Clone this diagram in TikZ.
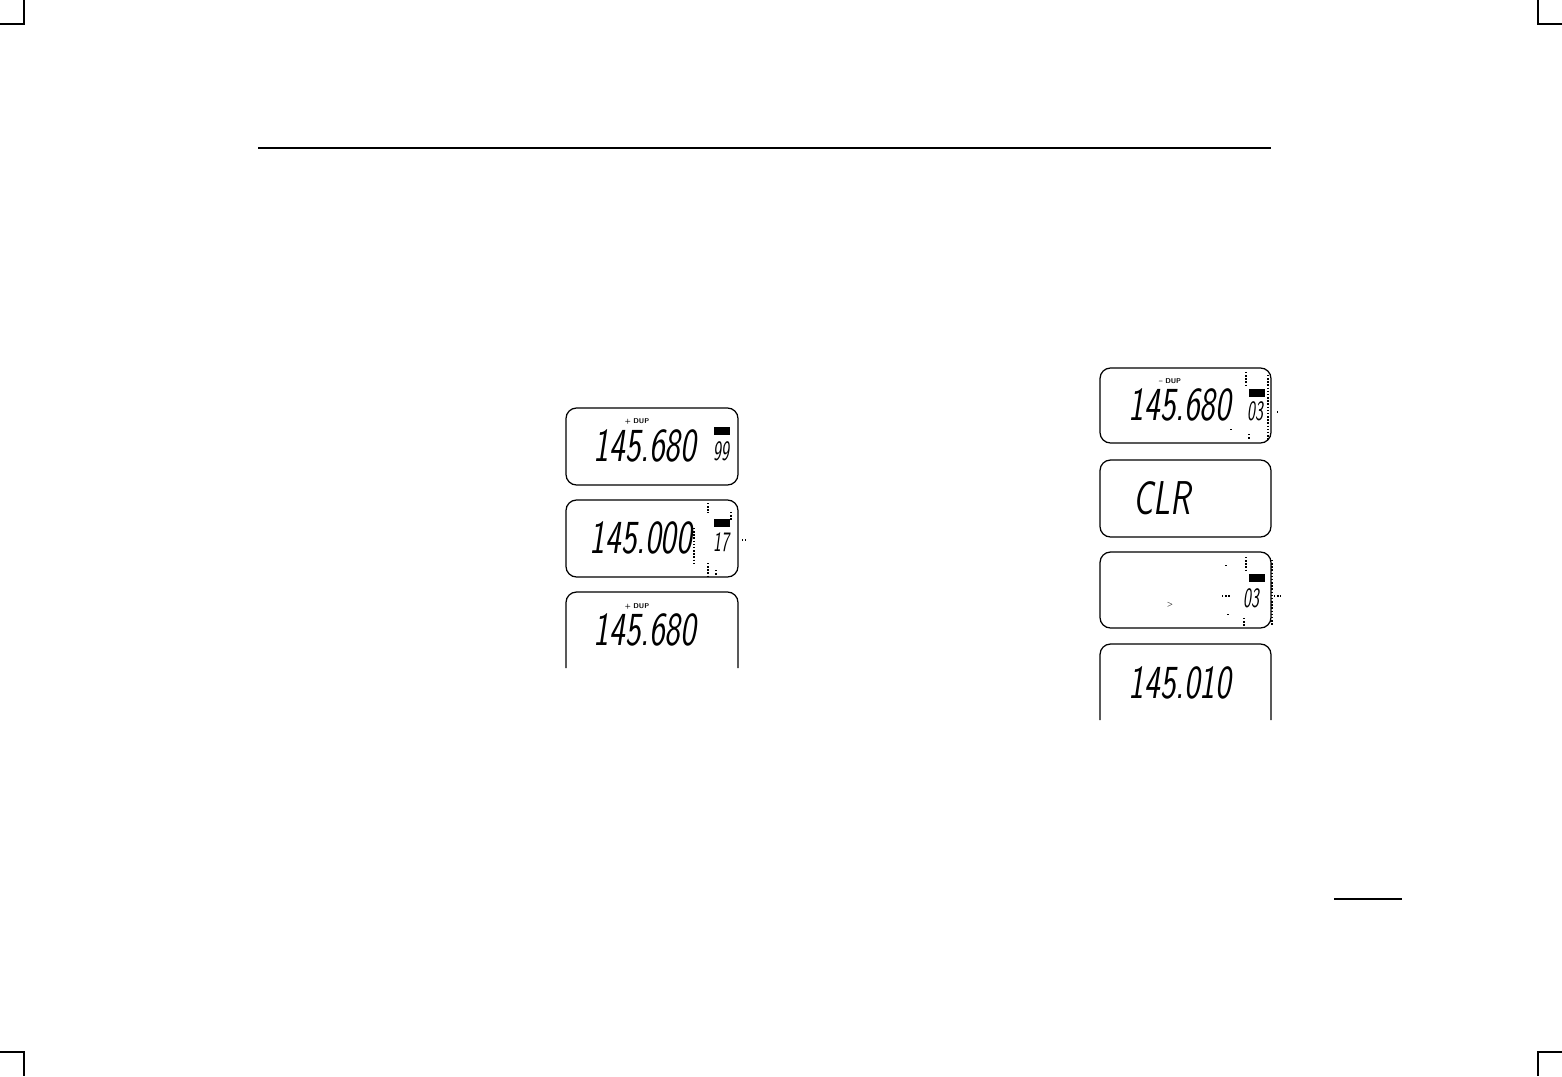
\documentclass[tikz,border=0pt]{standalone}
\usepackage{fontspec}
\usepackage{graphicx}
\tikzset{
  lcdbox/.style={line width=0.7pt, rounded corners=6pt},
  freq/.style={inner sep=0pt, font=\fontsize{27}{27}\sffamily\itshape},
  chan/.style={inner sep=0pt, font=\fontsize{16}{16}\sffamily\itshape},
  duplbl/.style={inner sep=0pt, font=\fontsize{4}{4}\sffamily\bfseries},
  badge/.style={fill=black, minimum width=9pt, minimum height=4pt, inner sep=0pt},
  blink/.style={line width=0.8pt, densely dotted},
  rule/.style={line width=1pt}
}
\newcommand{\lcdtxt}[1]{\scalebox{0.7}[1]{#1}}
\newcommand{\chtxt}[1]{\scalebox{0.6}[1]{#1}}
\begin{document}
\begin{tikzpicture}[x=0.02cm, y=-0.02cm]
\useasboundingbox (0,0) rectangle (1562,1076);
% crop marks
\draw[line width=0.8pt] (24,0) -- (24,24) -- (0,24);
\draw[line width=0.8pt] (1538,0) -- (1538,24) -- (1562,24);
\draw[line width=0.8pt] (0,1052) -- (24,1052) -- (24,1076);
\draw[line width=0.8pt] (1562,1052) -- (1538,1052) -- (1538,1076);
% rules
\draw[rule] (258,148) -- (1271,148);
\draw[rule] (1334,899) -- (1402,899);

% left column
\draw[lcdbox] (566,408) rectangle (738,485);
\node[freq] (fa) at (645,446) {\lcdtxt{145.680}};
\node[duplbl] (da) at (637,421) {+ DUP};
\node[badge] (ba) at (722,431) {};
\node[chan] (ca) at (721,451) {\chtxt{99}};

\draw[lcdbox] (566,500) rectangle (738,577);
\node[freq] (fb) at (641,538) {\lcdtxt{145.000}};
\node[badge] (bb) at (722,523) {};
\node[chan] (cb) at (721,542) {\chtxt{17}};
\draw[blink] (708,503) -- (708,513) (708,563) -- (708,576)
  (731,512) -- (731,521) (742,540) -- (746,540)
  (694,528) -- (694,565) (716,570) -- (716,576);

\draw[lcdbox] (566,668) -- (566,592) -- (738,592) -- (738,668);
\node[freq] (fc) at (645,630) {\lcdtxt{145.680}};
\node[duplbl] (dc) at (637,606) {+ DUP};

% right column
\draw[lcdbox] (1100,368) rectangle (1271,443);
\node[freq] (fd) at (1180,405) {\lcdtxt{145.680}};
\node[duplbl] (dd) at (1170,381) {-- DUP};
\node[badge] (bd) at (1257,393) {};
\node[chan] (cd) at (1255,411) {\chtxt{03}};
\draw[blink] (1246,372) -- (1246,385) (1268,375) -- (1268,440)
  (1277,412) -- (1280,412) (1231,429) -- (1231,432) (1249,434) -- (1249,440);

\draw[lcdbox] (1100,460) rectangle (1271,537);
\node[freq] (fe) at (1162,498) {\lcdtxt{CLR}};

\draw[lcdbox] (1100,552) rectangle (1271,628);
\node[duplbl] (ge) at (1170,605) {>};
\node[badge] (bf) at (1257,578) {};
\node[chan] (cf) at (1251,598) {\chtxt{03}};
\draw[blink] (1246,557) -- (1246,570) (1272,560) -- (1272,625)
  (1274,596) -- (1281,596) (1222,596) -- (1230,596)
  (1226,565) -- (1226,567) (1228,614) -- (1228,617) (1244,618) -- (1244,626);

\draw[lcdbox] (1100,720) -- (1100,644) -- (1271,644) -- (1271,720);
\node[freq] (fg) at (1180,683) {\lcdtxt{145.010}};
\end{tikzpicture}
\end{document}
